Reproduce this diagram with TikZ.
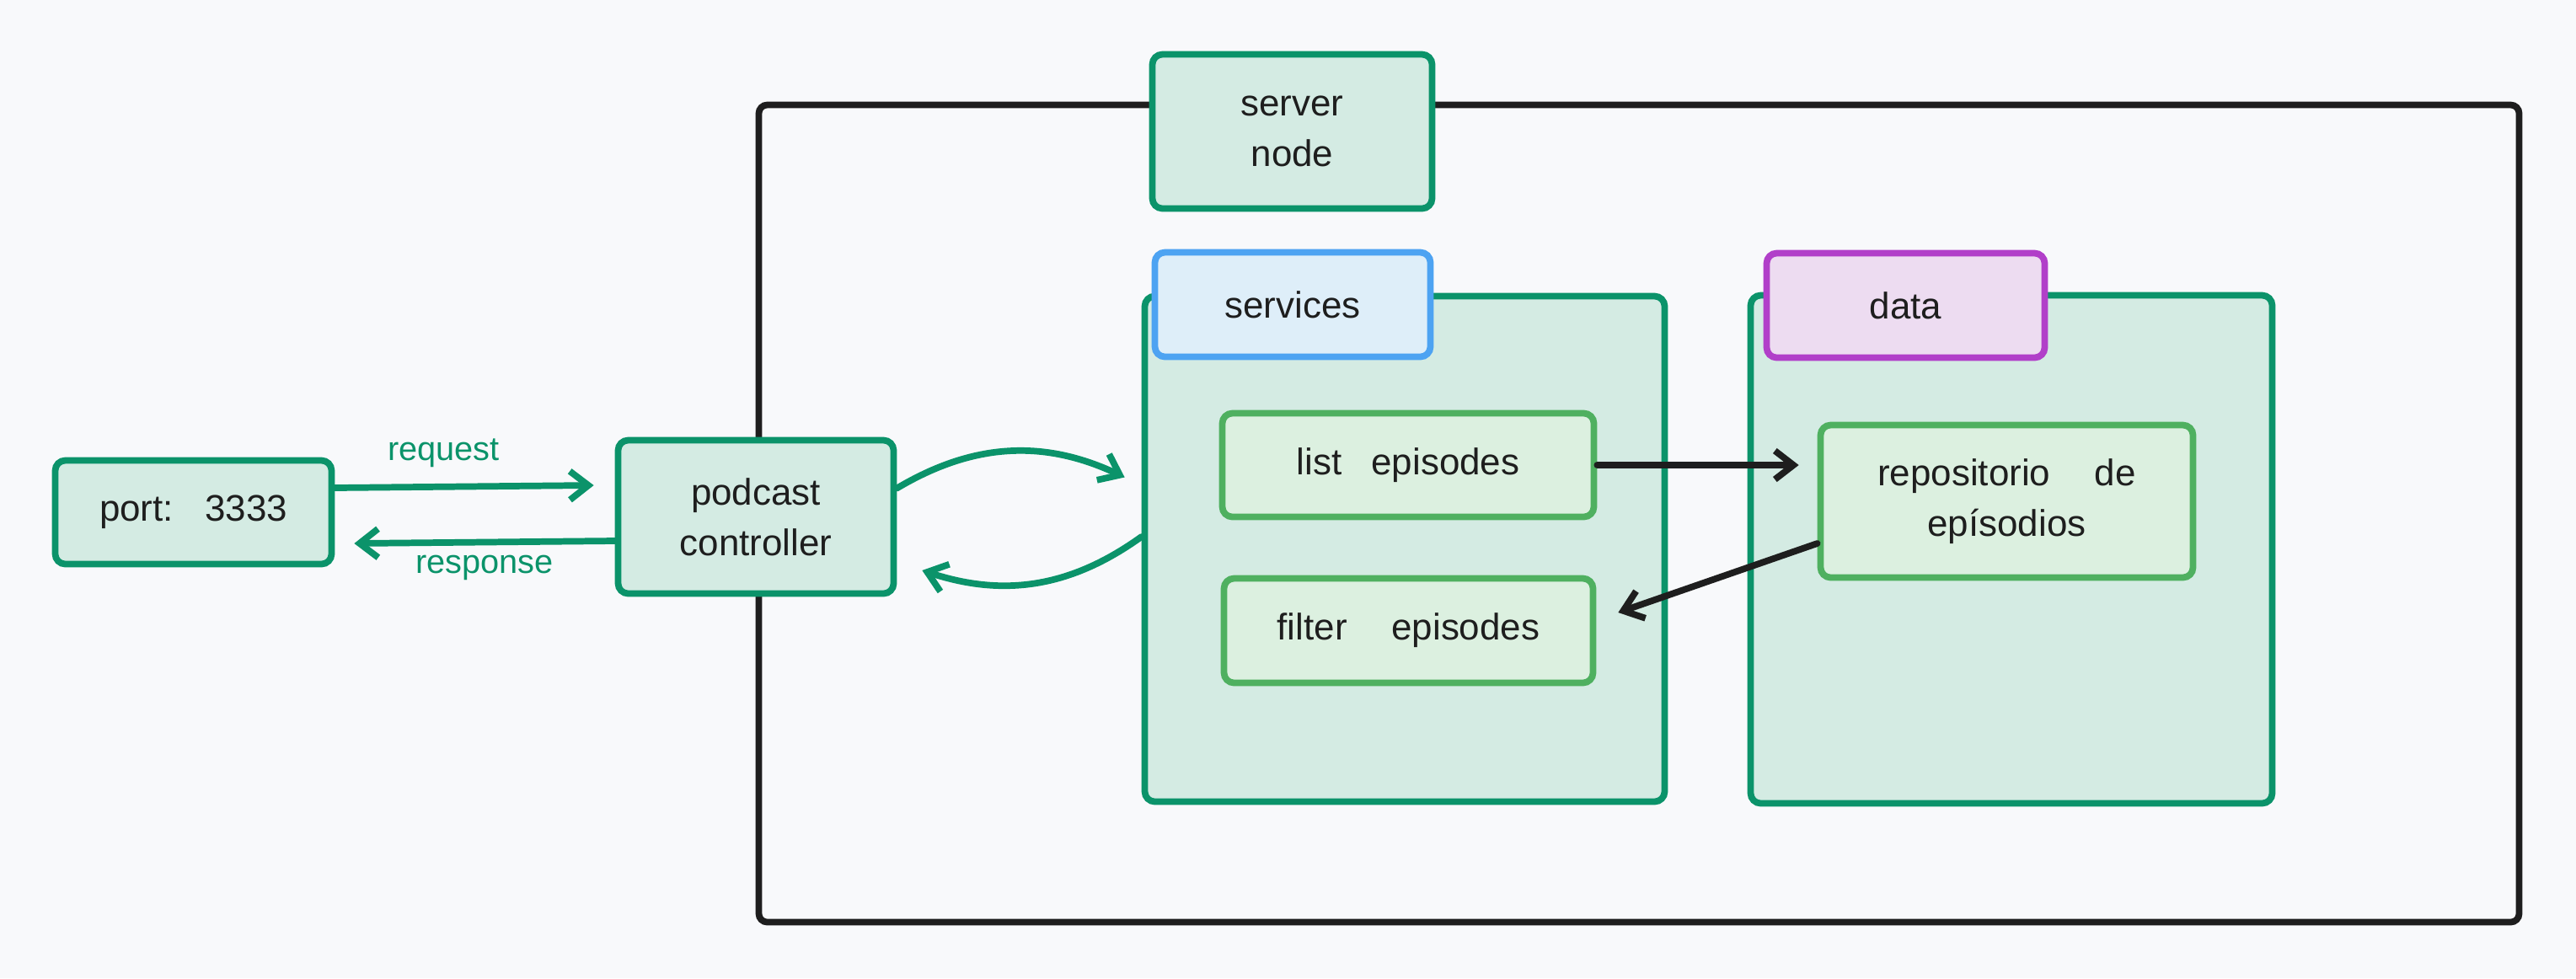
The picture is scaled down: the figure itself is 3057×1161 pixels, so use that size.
\documentclass[tikz,border=0pt]{standalone}
\usepackage{fontspec}
\setmainfont{Liberation Sans}
\usetikzlibrary{arrows.meta,positioning}
\definecolor{paperGray}{HTML}{F8F9FB}
\definecolor{inkBlack}{HTML}{1E1E1E}
\definecolor{nodeGreen}{HTML}{0B936A}
\definecolor{lightGreen}{HTML}{D4EBE3}
\definecolor{leafGreen}{HTML}{4FB060}
\definecolor{paleGreen}{HTML}{DCF0E0}
\definecolor{tabBlue}{HTML}{4DA3F2}
\definecolor{paleBlue}{HTML}{DEEEF9}
\definecolor{tabPurple}{HTML}{B13FC9}
\definecolor{palePurple}{HTML}{EDDCF1}
\tikzset{
  boxbase/.style={draw, line width=2.2pt, rounded corners=1.2mm, align=center, inner sep=0pt, text=inkBlack, font=\fontsize{12.5}{17}\selectfont},
  greenbox/.style={boxbase, draw=nodeGreen, fill=lightGreen},
  leafbox/.style={boxbase, draw=leafGreen, fill=paleGreen},
  bluetab/.style={boxbase, draw=tabBlue, fill=paleBlue},
  purpletab/.style={boxbase, draw=tabPurple, fill=palePurple},
  serverframe/.style={draw=inkBlack, line width=2.2pt, rounded corners=1mm, inner sep=0pt},
  flow/.style={-{Straight Barb[length=2.2mm, width=3.4mm]}, line width=2.2pt, line cap=round, nodeGreen},
  dataflow/.style={flow, inkBlack},
  flowlabel/.style={text=nodeGreen, font=\fontsize{11.3}{13}\selectfont}
}
\begin{document}
\begin{tikzpicture}[x=0.1mm, y=-0.1mm]
  \fill[paperGray] (0,0) rectangle (3057,1161);
  \node[serverframe, minimum width=208.9mm, minimum height=97mm] (frame) at (1945,609.5) {};
  % service and data containers
  \node[greenbox, minimum width=61.7mm, minimum height=60mm] (svcbox) at (1667,651.5) {};
  \node[greenbox, minimum width=61.9mm, minimum height=60.3mm] (databox) at (2387,652) {};
  \node[bluetab, minimum width=32.7mm, minimum height=12.4mm] (svctab) at (1534,361.5) {services};
  \node[purpletab, minimum width=33mm, minimum height=12.4mm] (datatab) at (2261.5,362.5) {data};
  \node[greenbox, minimum width=33.2mm, minimum height=18.3mm] (srvnode) at (1533.5,156) {server\\node};
  % left side
  \node[greenbox, minimum width=32.8mm, minimum height=12.3mm] (port) at (229.5,608) {port:\hspace{0.85em}3333};
  \node[greenbox, minimum width=32.7mm, minimum height=18.2mm] (ctrl) at (897,613.5) {podcast\\controller};
  % inner boxes
  \node[leafbox, minimum width=44.1mm, minimum height=12.3mm] (listep) at (1671,552) {list\hspace{0.8em}episodes};
  \node[leafbox, minimum width=43.8mm, minimum height=12.4mm] (filterep) at (1671.5,748.5) {filter\hspace{1.2em}episodes};
  \node[leafbox, minimum width=44.2mm, minimum height=18.1mm] (repo) at (2381.5,595) {repositorio\hspace{1.2em}de\\epísodios};
  % connectors
  \draw[flow] ([yshift=2.9mm]port.east) -- ([shift={(-2.5mm,3.75mm)}]ctrl.west)
    node[flowlabel, pos=0.42, above=0.7mm] (reqlabel) {request};
  \draw[flow] ([yshift=-2.85mm]ctrl.west) -- ([shift={(2.3mm,-3.7mm)}]port.east)
    node[flowlabel, midway, below=0mm] (resplabel) {response};
  \draw[flow] ([yshift=3.4mm]ctrl.east) to[bend left=28] ([shift={(-2mm,8.5mm)}]svcbox.west);
  \draw[flow] ([yshift=1.45mm]svcbox.west) to[bend left=27] ([shift={(3mm,-6.35mm)}]ctrl.east);
  \draw[dataflow] (listep.east) -- ([xshift=-2.2mm]repo.west |- listep.east);
  \draw[dataflow] ([yshift=-5mm]repo.west) -- ([shift={(2.6mm,2.15mm)}]filterep.east);
\end{tikzpicture}
\end{document}
